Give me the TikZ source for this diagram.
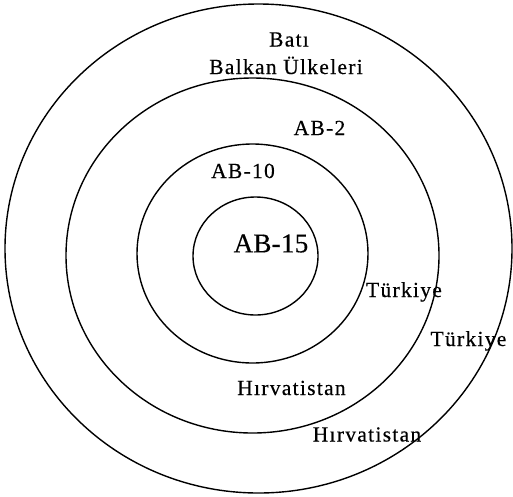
\documentclass[tikz,border=0pt]{standalone}
\usepackage{fontspec}
\setmainfont{Liberation Serif}
\newfontfamily\lblfont[LetterSpace=6,FakeBold=0.4]{Liberation Serif}
\newfontfamily\bigfont[LetterSpace=1,FakeBold=0.4]{Liberation Serif}
\tikzset{
  ring/.style={line width=1.4pt},
  lbl/.style={font=\lblfont\fontsize{21.5}{24}\selectfont, inner sep=0pt, anchor=base},
  biglbl/.style={font=\bigfont\fontsize{27}{30}\selectfont, inner sep=0pt, anchor=base}
}
\begin{document}
\begin{tikzpicture}[x=1pt,y=-1pt]
\useasboundingbox (0,0) rectangle (513,496);
\draw[ring] (258.5,248.5) ellipse [x radius=253.5, y radius=244.5];
\draw[ring] (252.5,255.5) ellipse [x radius=186.5, y radius=177.5];
\draw[ring] (252.5,253.5) ellipse [x radius=115.5, y radius=109.5];
\draw[ring] (255.5,256) ellipse [x radius=62.5, y radius=59];
\node[lbl] (bati) at (289,46.5) {Batı};
\node[lbl] (balkan) at (286,74) {Balkan Ülkeleri};
\node[lbl] (ab2) at (319.5,135) {AB-2};
\node[lbl] (ab10) at (243,178) {AB-10};
\node[biglbl] (ab15) at (271,252.3) {AB-15};
\node[lbl] (tr1) at (404,297) {Türkiye};
\node[lbl] (tr2) at (468.5,346) {Türkiye};
\node[lbl] (hr1) at (291.5,395) {Hırvatistan};
\node[lbl] (hr2) at (367,441.5) {Hırvatistan};
\end{tikzpicture}
\end{document}
